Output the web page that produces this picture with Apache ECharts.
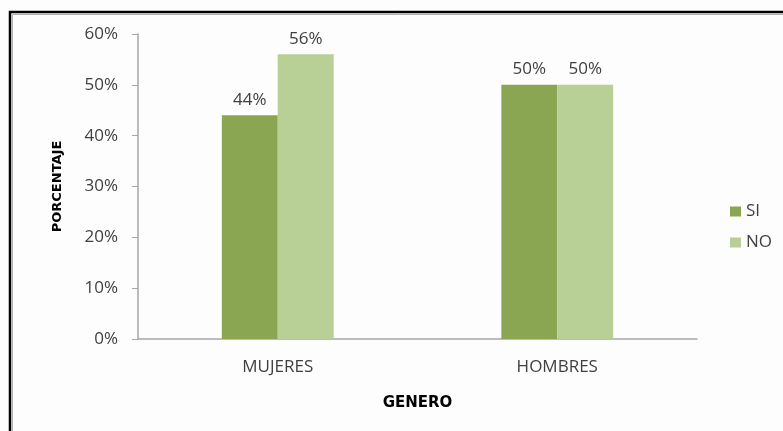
<!DOCTYPE html>
<html>
<head>
<meta charset="utf-8">
<script src="https://cdn.jsdelivr.net/npm/echarts@6/dist/echarts.min.js"></script>
<style>
html,body{margin:0;padding:0;background:#fff;}
#chart{width:783px;height:431px;}
</style>
</head>
<body>
<div id="chart"></div>
<script>
var categories = ['MUJERES', 'HOMBRES'];
var seriesNames = ['SI', 'NO'];
var siValues = [44, 50];
var noValues = [56, 50];
var yTicks = {min: 0, max: 60, interval: 10};

var FONT = '"Open Sans", sans-serif';
var BOLD = '"DejaVu Sans", sans-serif';
var chart = echarts.init(document.getElementById('chart'));
chart.setOption({
  backgroundColor: '#fdfdfd',
  animation: false,
  textStyle: {fontFamily: FONT},
  graphic: [
    {type: 'rect', shape: {x: 10, y: 12, width: 790, height: 440}, style: {fill: 'none', stroke: '#000', lineWidth: 2.5}},
    {type: 'rect', shape: {x: 12.5, y: 14.5, width: 790, height: 440}, style: {fill: 'none', stroke: '#b0b0b0', lineWidth: 1}}
  ],
  grid: {left: 138, right: 86, top: 34, bottom: 92},
  legend: {
    orient: 'vertical', left: 725, top: 198,
    itemWidth: 11, itemHeight: 10, itemGap: 14,
    icon: 'rect',
    textStyle: {fontSize: 17, color: '#404040', fontFamily: FONT},
    data: seriesNames
  },
  xAxis: {
    type: 'category', data: categories,
    axisLine: {lineStyle: {color: '#a6a6a6', width: 1.5}},
    axisTick: {show: false},
    axisLabel: {color: '#404040', fontSize: 17, margin: 20, fontFamily: FONT},
    name: 'GENERO', nameLocation: 'middle', nameGap: 57,
    nameTextStyle: {fontWeight: 'bold', fontSize: 15, color: '#000', fontFamily: BOLD}
  },
  yAxis: {
    type: 'value', min: yTicks.min, max: yTicks.max, interval: yTicks.interval,
    axisLine: {show: true, lineStyle: {color: '#a6a6a6', width: 1.5}},
    axisTick: {show: true, length: 6, lineStyle: {color: '#a6a6a6'}},
    splitLine: {show: false},
    axisLabel: {formatter: '{value}%', color: '#404040', fontSize: 17, margin: 20, fontFamily: FONT},
    name: 'PORCENTAJE', nameLocation: 'middle', nameGap: 74, nameRotate: 90,
    nameTextStyle: {fontWeight: 'bold', fontSize: 13, color: '#000', fontFamily: BOLD}
  },
  series: [
    {name: 'SI', type: 'bar', data: siValues, barWidth: '20%', barGap: '0%',
     itemStyle: {color: '#8aa652'},
     label: {show: true, position: 'top', formatter: '{c}%', color: '#404040', fontSize: 17, distance: 7, fontFamily: FONT}},
    {name: 'NO', type: 'bar', data: noValues, barWidth: '20%', barGap: '0%',
     itemStyle: {color: '#b8cf95'},
     label: {show: true, position: 'top', formatter: '{c}%', color: '#404040', fontSize: 17, distance: 7, fontFamily: FONT}}
  ]
});
</script>
</body>
</html>
